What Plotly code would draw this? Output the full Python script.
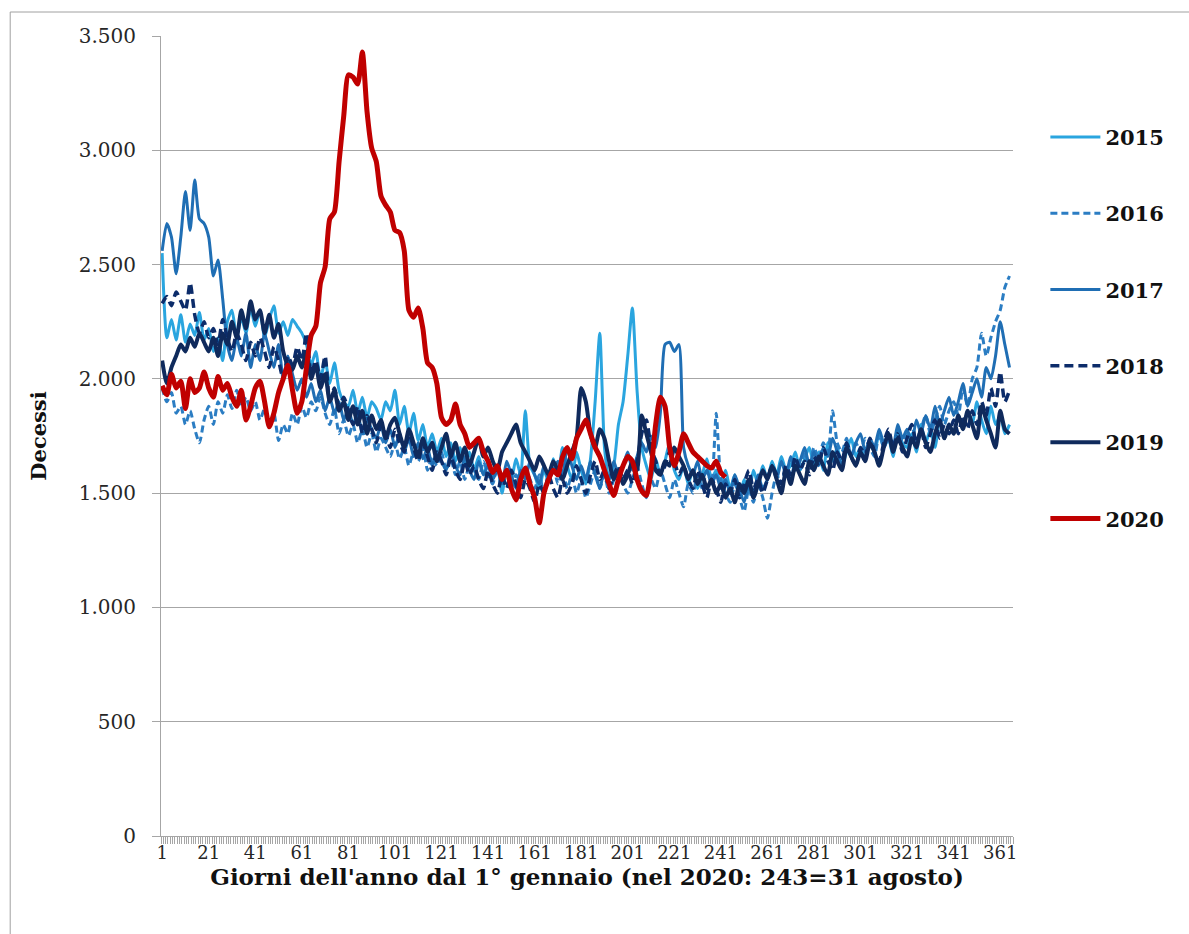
import plotly.graph_objects as go

# Day of year categories (one value every second day)
days = list(range(1, 366, 2))
days_2020 = list(range(1, 244, 2))

tick_days = [1, 21, 41, 61, 81, 101, 121, 141, 161, 181, 201, 221, 241, 261, 281, 301, 321, 341, 361]

y2015 = [2550, 2180, 2260, 2170, 2280, 2160, 2240, 2190, 2290, 2170,
         2220, 2120, 2180, 2080, 2250, 2300, 2180, 2270, 2200, 2310,
         2230, 2300, 2180, 2260, 2320, 2200, 2250, 2190, 2260, 2230,
         2200, 2150, 2060, 2120, 2000, 2080, 1980, 2070, 1950, 1900,
         1880, 1950, 1850, 1920, 1830, 1900, 1870, 1820, 1900, 1860,
         1950, 1800, 1880, 1760, 1850, 1730, 1800, 1700, 1760, 1680,
         1740, 1660, 1720, 1640, 1700, 1620, 1680, 1600, 1660, 1580,
         1640, 1560, 1620, 1500, 1600, 1560, 1650, 1580, 1860, 1620,
         1580, 1520, 1600, 1550, 1650, 1580, 1700, 1620, 1560, 1680,
         1600, 1540, 1650, 1900, 2200, 1700, 1560, 1620, 1800, 1900,
         2100, 2310, 1950, 1700, 1620, 1560, 1650, 1580, 1640, 1720,
         1600, 1560, 1620, 1540, 1600, 1520, 1580, 1650, 1560, 1600,
         1540, 1600, 1520, 1580, 1480, 1560, 1500, 1600, 1540, 1620,
         1560, 1640, 1580, 1660, 1600, 1620, 1680, 1600, 1650, 1700,
         1620, 1680, 1600, 1720, 1640, 1700, 1620, 1680, 1740, 1660,
         1700, 1650, 1720, 1680, 1760, 1700, 1740, 1660, 1780, 1720,
         1700, 1760, 1680, 1800, 1720, 1780, 1700, 1820, 1740, 1800,
         1760, 1840, 1780, 1860, 1800, 1900, 1820, 1760, 1880, 1800,
         1840, 1760, 1800]

y2016 = [1960, 1900, 1940, 1850, 1880, 1800, 1860, 1780, 1720, 1820,
         1880, 1800, 1900, 1850, 1930, 1870, 1950, 1880, 1920, 1860,
         1900, 1820, 1870, 1790, 1850, 1730, 1800, 1760, 1850, 1800,
         1880, 1830, 1900, 1860, 1920, 1850, 1800, 1870, 1760, 1820,
         1750, 1800, 1720, 1780, 1700, 1760, 1680, 1740, 1700, 1660,
         1720, 1650, 1700, 1620, 1680, 1640, 1700, 1600, 1660, 1620,
         1680, 1600, 1650, 1580, 1640, 1560, 1620, 1600, 1560, 1640,
         1580, 1540, 1620, 1560, 1600, 1520, 1580, 1540, 1620, 1560,
         1520, 1580, 1500, 1560, 1620, 1540, 1600, 1520, 1580, 1500,
         1560, 1480, 1540, 1600, 1520, 1580, 1500, 1560, 1620, 1540,
         1500, 1560, 1620, 1540, 1480, 1560, 1520, 1600, 1540, 1480,
         1560, 1500, 1440, 1540, 1500, 1580, 1520, 1600, 1540, 1850,
         1560, 1500, 1460, 1540, 1480, 1420, 1520, 1460, 1540, 1480,
         1390, 1500, 1580, 1540, 1620, 1560, 1640, 1600, 1680, 1620,
         1700, 1650, 1720, 1680, 1860, 1720, 1680, 1740, 1660, 1720,
         1680, 1740, 1700, 1660, 1760, 1700, 1740, 1680, 1780, 1720,
         1760, 1800, 1720, 1780, 1840, 1760, 1820, 1880, 1800, 1860,
         1900, 1840, 1960, 1880, 2000, 2050, 2200, 2100, 2180, 2250,
         2300, 2400, 2450]

y2017 = [2560, 2680, 2620, 2460, 2620, 2820, 2650, 2870, 2700, 2680,
         2620, 2450, 2520, 2350, 2150, 2080, 2180, 2100, 2200, 2050,
         2150, 2080, 2200, 2120, 2050, 2150, 2000, 2100, 2020, 1950,
         2000, 1920, 1980, 1900, 1950, 1860, 1920, 1850, 1900, 1820,
         1870, 1800, 1850, 1760, 1820, 1780, 1740, 1800, 1720, 1780,
         1700, 1760, 1680, 1740, 1660, 1720, 1650, 1700, 1620, 1680,
         1640, 1600, 1680, 1620, 1580, 1660, 1600, 1560, 1640, 1580,
         1620, 1560, 1600, 1540, 1640, 1580, 1520, 1600, 1560, 1640,
         1580, 1540, 1620, 1560, 1600, 1640, 1580, 1700, 1620, 1560,
         1620, 1560, 1640, 1580, 1520, 1600, 1560, 1640, 1580, 1620,
         1680, 1600, 1660, 1720, 1680, 1750, 1700, 1850, 2150, 2160,
         2120, 2150, 1700, 1620, 1580, 1640, 1560, 1600, 1540, 1580,
         1520, 1560, 1500, 1580, 1520, 1460, 1540, 1500, 1580, 1520,
         1560, 1620, 1560, 1640, 1580, 1660, 1600, 1640, 1700, 1620,
         1680, 1620, 1700, 1660, 1740, 1680, 1620, 1700, 1660, 1720,
         1760, 1680, 1740, 1700, 1780, 1720, 1760, 1700, 1800, 1740,
         1780, 1720, 1820, 1760, 1840, 1780, 1880, 1800, 1860, 1920,
         1840, 1900, 1980, 1880, 1940, 2000, 1920, 2050, 2000, 2100,
         2250, 2150, 2050]

y2018 = [2330, 2360, 2320, 2380, 2340, 2300, 2420, 2280, 2200, 2250,
         2180, 2220, 2150, 2260, 2180, 2120, 2200, 2150, 2080, 2160,
         2100, 2180, 2120, 2050, 2140, 2080, 2000, 2100, 2060, 2140,
         2080, 2200, 2020, 2080, 2000, 2100, 1900, 1960, 1880, 1920,
         1860, 1800, 1880, 1760, 1840, 1780, 1720, 1800, 1760, 1700,
         1780, 1720, 1680, 1760, 1700, 1640, 1720, 1660, 1600, 1680,
         1640, 1580, 1660, 1600, 1560, 1640, 1580, 1620, 1560, 1520,
         1600, 1540, 1500, 1580, 1520, 1600, 1540, 1480, 1560, 1520,
         1460, 1540, 1500, 1580, 1520, 1480, 1560, 1500, 1540, 1620,
         1560, 1500, 1580, 1640, 1560, 1600, 1520, 1580, 1620, 1560,
         1600, 1540, 1640, 1760, 1820, 1700, 1640, 1580, 1620, 1680,
         1640, 1580, 1620, 1560, 1520, 1600, 1540, 1480, 1560, 1520,
         1460, 1540, 1500, 1560, 1480, 1540, 1600, 1520, 1560, 1500,
         1560, 1620, 1580, 1540, 1620, 1580, 1660, 1600, 1640, 1580,
         1660, 1620, 1700, 1640, 1600, 1680, 1640, 1720, 1660, 1620,
         1700, 1660, 1740, 1680, 1640, 1720, 1780, 1700, 1760, 1680,
         1740, 1800, 1720, 1780, 1700, 1760, 1820, 1740, 1800, 1760,
         1820, 1760, 1840, 1780, 1860, 1800, 1900, 1840, 1960, 1880,
         2030, 1900, 1950]

y2019 = [2080, 1980, 2050, 2100, 2150, 2120, 2180, 2140, 2200, 2160,
         2120, 2180, 2100, 2200, 2150, 2250, 2180, 2300, 2220, 2340,
         2260, 2300, 2200, 2280, 2180, 2240, 2120, 2060, 2040, 2100,
         2050, 2120, 2000, 2060, 1960, 2020, 1900, 1950, 1860, 1900,
         1820, 1880, 1800, 1860, 1760, 1840, 1780, 1820, 1740, 1800,
         1830, 1760, 1700, 1780, 1720, 1660, 1740, 1680, 1720, 1640,
         1700, 1760, 1660, 1720, 1640, 1700, 1620, 1680, 1740, 1660,
         1700, 1640, 1600, 1680, 1720, 1760, 1800, 1720, 1680, 1640,
         1600, 1660, 1620, 1580, 1640, 1600, 1560, 1620, 1680, 1740,
         1960, 1900, 1760, 1700, 1780, 1740, 1640, 1560, 1600, 1540,
         1580, 1640, 1600, 1840, 1760, 1680, 1600, 1580, 1640, 1620,
         1700, 1660, 1620, 1560, 1600, 1540, 1580, 1520, 1560, 1500,
         1540, 1480, 1520, 1460, 1540, 1500, 1560, 1480, 1540, 1600,
         1560, 1620, 1560, 1500, 1600, 1540, 1620, 1580, 1540, 1640,
         1600, 1660, 1620, 1580, 1680, 1640, 1600, 1700, 1660, 1620,
         1680, 1640, 1720, 1680, 1620, 1700, 1760, 1680, 1740, 1700,
         1660, 1740, 1700, 1780, 1720, 1680, 1760, 1820, 1740, 1800,
         1760, 1840, 1780, 1860, 1800, 1740, 1880, 1820, 1760, 1700,
         1860, 1780, 1760]

y2020 = [1970, 1930, 2020, 1960, 1990, 1870, 2000, 1940, 1960, 2030,
         1960, 1920, 2010, 1950, 1980, 1920, 1880, 1950, 1820, 1880,
         1960, 1990, 1900, 1790, 1850, 1940, 2000, 2060, 1950, 1850,
         1900, 2050, 2190, 2230, 2420, 2490, 2700, 2730, 2950, 3150,
         3330, 3320, 3290, 3430, 3170, 3010, 2950, 2800, 2760, 2730,
         2650, 2640, 2560, 2300, 2270, 2310, 2220, 2070, 2050, 1980,
         1830, 1800, 1820, 1890, 1800, 1760, 1700, 1720, 1740, 1680,
         1640, 1590, 1620, 1560, 1600, 1520, 1470, 1560, 1610, 1540,
         1480, 1370, 1500, 1560, 1600, 1580, 1660, 1700, 1650, 1740,
         1780, 1820, 1760, 1700, 1660, 1600, 1540, 1490, 1560, 1620,
         1660, 1640, 1560, 1510, 1490, 1600, 1800, 1920, 1880, 1700,
         1620, 1680, 1760, 1720, 1680, 1660, 1640, 1620, 1610, 1640,
         1590, 1570]

series = [
    ("2015", days, y2015, "#2AA5DF", 3.0, "solid"),
    ("2016", days, y2016, "#2B7DC3", 3.0, "7px,4px"),
    ("2017", days, y2017, "#1F6EB4", 3.0, "solid"),
    ("2018", days, y2018, "#0C2C6A", 3.5, "9px,5px"),
    ("2019", days, y2019, "#0F2A5C", 4.0, "solid"),
    ("2020", days_2020, y2020, "#C00000", 5.0, "solid"),
]

FONT = "DejaVu Serif"
GRID = "#A6A6A6"

fig = go.Figure()
for name, xs, ys, color, width, dash in series:
    fig.add_trace(go.Scatter(
        x=xs, y=ys, name=name, mode="lines",
        line=dict(color=color, width=width, dash=dash, shape="spline", smoothing=0.6),
        legendgroup=name,
    ))

fig.update_layout(
    width=1189, height=934,
    margin=dict(l=161, r=176, t=36, b=98),
    paper_bgcolor="white", plot_bgcolor="white",
    separators=",.",
    font=dict(family=FONT, color="#262626"),
    showlegend=True,
    legend=dict(
        x=1.038, y=0.899, xanchor="left", yanchor="top",
        font=dict(family=FONT, size=21, color="#111111", weight="bold"),
        tracegroupgap=46, itemwidth=50,
        bgcolor="rgba(0,0,0,0)",
    ),
    xaxis=dict(
        range=[0.5, 366.5],
        tickmode="array", tickvals=tick_days, ticktext=[str(d) for d in tick_days],
        ticks="", showgrid=False, zeroline=False,
        showline=True, linecolor=GRID, linewidth=1,
        tickfont=dict(family=FONT, size=18, color="#262626"),
        minor=dict(dtick=1, tick0=0.5, ticks="outside", ticklen=7, tickcolor=GRID, tickwidth=1, showgrid=False),
        title=dict(text="Giorni dell'anno dal 1° gennaio (nel 2020: 243=31 agosto)",
                   font=dict(family=FONT, size=23, color="#111111", weight="bold"), standoff=4),
    ),
    yaxis=dict(
        range=[0, 3500], dtick=500, tick0=0, tickformat=",d",
        showgrid=True, gridcolor=GRID, gridwidth=1, zeroline=False,
        showline=True, linecolor=GRID, linewidth=1,
        ticks="outside", ticklen=8, tickcolor=GRID,
        ticklabelstandoff=12,
        tickfont=dict(family=FONT, size=20, color="#262626"),
        title=dict(text="Decessi", font=dict(family=FONT, size=21, color="#111111", weight="bold"), standoff=26),
    ),
    shapes=[dict(type="rect", xref="paper", yref="paper",
                 x0=-0.177, x1=1.3, y0=-0.2, y1=1.03,
                 line=dict(color="#A0A0A0", width=1), fillcolor="rgba(0,0,0,0)", layer="below")],
)

fig.write_html("out.html")
